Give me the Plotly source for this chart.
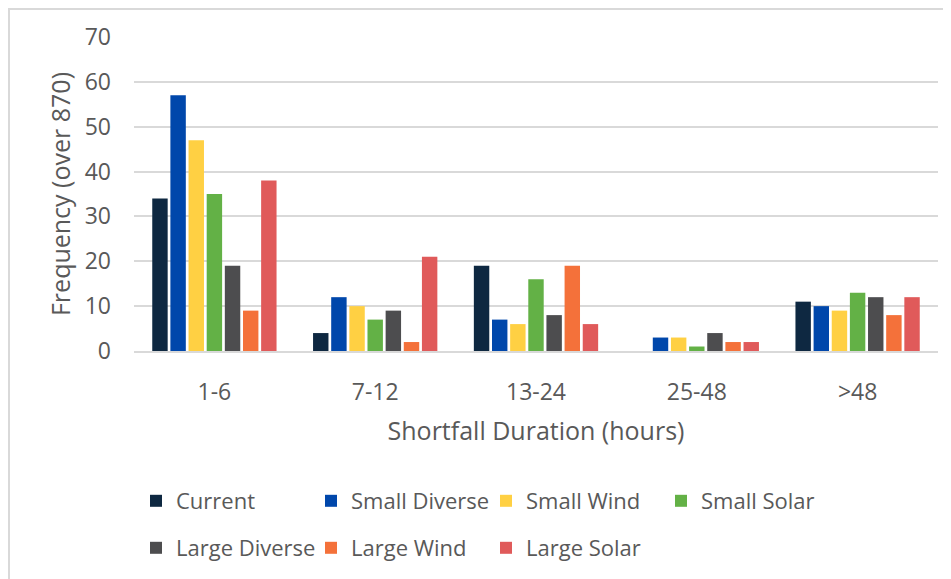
import plotly.graph_objects as go

categories = ["1-6", "7-12", "13-24", "25-48", ">48"]
series_names = ["Current", "Small Diverse", "Small Wind", "Small Solar",
                "Large Diverse", "Large Wind", "Large Solar"]
current = [34, 4, 19, 0, 11]
small_diverse = [57, 12, 7, 3, 10]
small_wind = [47, 10, 6, 3, 9]
small_solar = [35, 7, 16, 1, 13]
large_diverse = [19, 9, 8, 4, 12]
large_wind = [9, 2, 19, 2, 8]
large_solar = [38, 21, 6, 2, 12]
y_ticks = [0, 10, 20, 30, 40, 50, 60, 70]

values = [current, small_diverse, small_wind, small_solar,
          large_diverse, large_wind, large_solar]
colors = ["#0E2841", "#0047AB", "#FFD043", "#63B146",
          "#4D4D4F", "#F4713A", "#E05A5A"]

W, H = 951, 579
OFF = 8  # page body margin offset
# desired plot area in page pixels: x 134..938, y 37..351
L, T = 134 - OFF, 37 - OFF
pw, ph = 804, 314
R = W - L - pw
B = H - T - ph


def px(xp):
    return (xp - OFF - L) / pw


def py(yp):
    return (H - B - (yp - OFF)) / ph


fig = go.Figure()
for i, (name, vals, col) in enumerate(zip(series_names, values, colors)):
    fig.add_trace(go.Bar(
        x=categories, y=vals, name=name,
        marker=dict(color=col, line=dict(width=0)),
        legend="legend" if i < 4 else "legend2",
    ))

font_family = "Open Sans, Noto Sans, sans-serif"
text_col = "#595959"

fig.update_layout(
    width=W, height=H,
    margin=dict(l=L, r=R, t=T, b=B, autoexpand=False),
    paper_bgcolor="white", plot_bgcolor="white",
    barmode="group", bargap=0.21, bargroupgap=0.15,
    font=dict(family=font_family, color=text_col, size=22),
    xaxis=dict(
        showgrid=False, showline=True, linecolor="#D9D9D9", linewidth=2,
        ticks="", tickfont=dict(size=23, color=text_col),
        ticklabelstandoff=19, automargin=False,
        title=dict(text="Shortfall Duration (hours)", font=dict(size=25, color=text_col), standoff=17),
    ),
    yaxis=dict(
        range=[0, 70], tickvals=y_ticks, showgrid=True, gridcolor="#D9D9D9", gridwidth=2,
        zeroline=False, showline=False, ticks="", automargin=False,
        tickfont=dict(size=23, color=text_col), ticklabelstandoff=22,
        title=dict(text="Frequency (over 870)", font=dict(size=25, color=text_col), standoff=6),
    ),
    legend=dict(orientation="h", x=px(136), y=py(501), xanchor="left", yanchor="middle",
                entrywidth=130, font=dict(size=22, color=text_col), bgcolor="rgba(0,0,0,0)"),
    legend2=dict(orientation="h", x=px(136), y=py(548), xanchor="left", yanchor="middle",
                 entrywidth=130, font=dict(size=22, color=text_col), bgcolor="rgba(0,0,0,0)"),
    shapes=[
        dict(type="line", xref="paper", yref="paper",
             x0=px(8), x1=px(W + 20), y0=py(9), y1=py(9),
             line=dict(color="#D9D9D9", width=2)),
        dict(type="line", xref="paper", yref="paper",
             x0=px(9), x1=px(9), y0=py(9), y1=py(H + 20),
             line=dict(color="#D9D9D9", width=2)),
    ],
)

fig.write_html("out.html")
